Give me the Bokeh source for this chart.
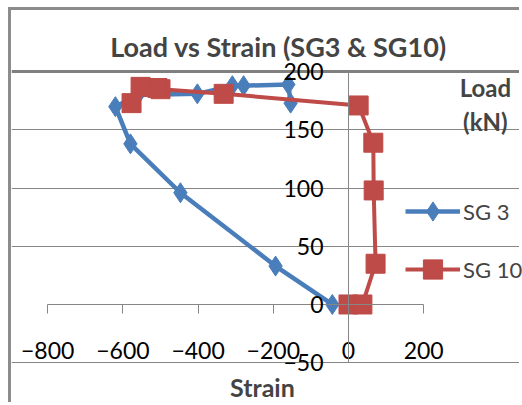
from bokeh.plotting import figure
from bokeh.models import Range1d, FixedTicker, Label, Legend, LegendItem, Grid
from bokeh.embed import file_html
from bokeh.resources import INLINE

# ---- data ----
sg3_strain = [-43, -194, -447, -580, -620, -560, -402, -309, -279, -160, -154]
sg3_load = [0, 33, 96, 138, 170, 180, 181, 188, 188, 189, 173]
sg10_strain = [0, 37, 72, 67, 66, 27, -332, -500, -508, -553, -577]
sg10_load = [0, 0, 35, 98, 139, 171, 181, 185, 186, 187, 173]
x_ticks = [-800, -600, -400, -200, 0, 200]
y_ticks = [-50, 0, 50, 100, 150, 200]

FONT = "Lato"
BLUE = "#4A7EBB"
RED = "#BE4B48"
GRAY = "#868686"

# frame covers the whole canvas; axes/grids bounded to the plot area
p = figure(width=511, height=395, x_range=Range1d(-896.3, 462.8), y_range=Range1d(-86.8, 252.6),
           output_backend="svg", toolbar_location=None,
           min_border_left=0, min_border_right=0, min_border_top=0, min_border_bottom=0)
p.margin = (7, 0, 0, 8)
p.styles = {"border-left": "3px solid #8c8c8c", "border-top": "3px solid #8c8c8c"}
p.outline_line_color = None
p.background_fill_color = "white"
p.border_fill_color = "white"

for ax in p.xaxis:
    ax.fixed_location = 0
    ax.bounds = (-800, 200)
    ax.ticker = FixedTicker(ticks=x_ticks)
    ax.axis_line_color = GRAY
    ax.major_tick_line_color = GRAY
    ax.major_tick_out = 9
    ax.major_tick_in = 0
    ax.minor_tick_line_color = None
    ax.major_label_standoff = 29
    ax.major_label_text_font = FONT
    ax.major_label_text_font_size = "23px"
    ax.major_label_text_color = "black"
for ax in p.yaxis:
    ax.fixed_location = 0
    ax.bounds = (-50, 200)
    ax.ticker = FixedTicker(ticks=y_ticks)
    ax.axis_line_color = GRAY
    ax.major_tick_line_color = None
    ax.major_tick_out = 0
    ax.major_tick_in = 0
    ax.minor_tick_line_color = None
    ax.major_label_standoff = 25
    ax.major_label_text_font = FONT
    ax.major_label_text_font_size = "23px"
    ax.major_label_text_color = "black"

p.xgrid.visible = False
p.ygrid.ticker = FixedTicker(ticks=[-50, 50, 100, 150])
p.ygrid.bounds = (-800, 200)
p.ygrid.grid_line_color = GRAY
p.ygrid.grid_line_width = 1
top_grid = Grid(dimension=1, ticker=FixedTicker(ticks=[200]), bounds=(-800, 200),
                grid_line_color="#808080", grid_line_width=3)
p.add_layout(top_grid)

# series
l1 = p.line(sg3_strain, sg3_load, line_color=BLUE, line_width=4.5)
s1 = p.scatter(sg3_strain, sg3_load, marker="diamond", size=20, fill_color=BLUE, line_color=BLUE)
l2 = p.line(sg10_strain, sg10_load, line_color=RED, line_width=4)
s2 = p.scatter(sg10_strain, sg10_load, marker="square", size=19, fill_color=RED, line_color=RED)

legend = Legend(items=[LegendItem(label="SG 3", renderers=[l1, s1]),
                       LegendItem(label="SG 10", renderers=[l2, s2])],
                location=(394, 112), glyph_width=55, glyph_height=48, spacing=10,
                label_standoff=3, padding=0, margin=0, border_line_color=None,
                background_fill_alpha=0, label_text_font=FONT, label_text_font_size="22px")
p.add_layout(legend)

def add_text(x, y, t, size):
    p.add_layout(Label(x=x, y=y, text=t, text_align="center", text_baseline="alphabetic",
                       text_font=FONT, text_font_style="bold", text_font_size=size))

add_text(-186, 221.6, "Load vs Strain (SG3 & SG10)", "27px")
add_text(-229, -71.3, "Strain", "25px")
add_text(364, 186.4, "Load", "24px")
add_text(364, 157.2, "(kN)", "24px")

open("out.html", "w").write(file_html(p, INLINE))
